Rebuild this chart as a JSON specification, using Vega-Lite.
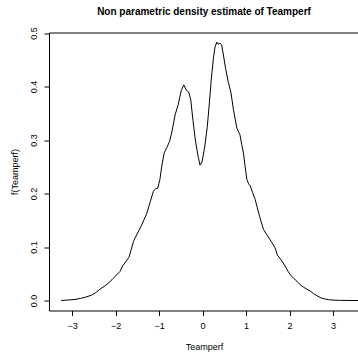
{
  "$schema": "https://vega.github.io/schema/vega-lite/v6.json",
  "width": 310,
  "height": 278,
  "autosize": {"type": "none"},
  "padding": {"left": 49, "top": 32.5, "right": 0, "bottom": 42.5},
  "background": "white",
  "title": {
    "text": "Non parametric density estimate of Teamperf",
    "font": "Liberation Sans",
    "fontSize": 10,
    "fontWeight": "bold",
    "color": "black",
    "anchor": "middle",
    "frame": "group",
    "offset": 10
  },
  "config": {
    "view": {"stroke": "black", "strokeWidth": 1},
    "axis": {
      "grid": false,
      "domain": false,
      "tickColor": "black",
      "tickSize": 5,
      "labelFont": "Liberation Sans",
      "labelFontSize": 9,
      "labelColor": "black",
      "titleFont": "Liberation Sans",
      "titleFontSize": 9,
      "titleFontWeight": "normal",
      "titleColor": "black"
    }
  },
  "data": {
    "values": [
      {"x": -3.25, "y": 0.0},
      {"x": -3.1, "y": 0.0008},
      {"x": -2.93, "y": 0.002},
      {"x": -2.8, "y": 0.004},
      {"x": -2.7, "y": 0.006},
      {"x": -2.55, "y": 0.01},
      {"x": -2.45, "y": 0.015},
      {"x": -2.36, "y": 0.021},
      {"x": -2.25, "y": 0.027},
      {"x": -2.17, "y": 0.032},
      {"x": -2.08, "y": 0.039},
      {"x": -2.01, "y": 0.045},
      {"x": -1.9, "y": 0.054},
      {"x": -1.83, "y": 0.065},
      {"x": -1.78, "y": 0.071},
      {"x": -1.69, "y": 0.081},
      {"x": -1.64, "y": 0.095},
      {"x": -1.59, "y": 0.11},
      {"x": -1.55, "y": 0.117},
      {"x": -1.48, "y": 0.128},
      {"x": -1.4, "y": 0.141},
      {"x": -1.34, "y": 0.152},
      {"x": -1.28, "y": 0.163},
      {"x": -1.2, "y": 0.185},
      {"x": -1.13, "y": 0.204},
      {"x": -1.08, "y": 0.209},
      {"x": -1.03, "y": 0.21},
      {"x": -0.98, "y": 0.226},
      {"x": -0.93, "y": 0.255},
      {"x": -0.88, "y": 0.276},
      {"x": -0.82, "y": 0.286},
      {"x": -0.76, "y": 0.297},
      {"x": -0.71, "y": 0.313},
      {"x": -0.63, "y": 0.347},
      {"x": -0.563, "y": 0.365},
      {"x": -0.52, "y": 0.381},
      {"x": -0.487, "y": 0.393},
      {"x": -0.43, "y": 0.403},
      {"x": -0.37, "y": 0.393},
      {"x": -0.32, "y": 0.39},
      {"x": -0.27, "y": 0.375},
      {"x": -0.22, "y": 0.337},
      {"x": -0.165, "y": 0.3},
      {"x": -0.1, "y": 0.269},
      {"x": -0.057, "y": 0.253},
      {"x": -0.011, "y": 0.259},
      {"x": 0.05, "y": 0.287},
      {"x": 0.11, "y": 0.325},
      {"x": 0.15, "y": 0.362},
      {"x": 0.2, "y": 0.412},
      {"x": 0.25, "y": 0.453},
      {"x": 0.287, "y": 0.474},
      {"x": 0.33, "y": 0.483},
      {"x": 0.36, "y": 0.479},
      {"x": 0.4, "y": 0.481},
      {"x": 0.44, "y": 0.478},
      {"x": 0.48, "y": 0.459},
      {"x": 0.53, "y": 0.434},
      {"x": 0.59, "y": 0.409},
      {"x": 0.655, "y": 0.388},
      {"x": 0.71, "y": 0.357},
      {"x": 0.79, "y": 0.322},
      {"x": 0.86, "y": 0.31},
      {"x": 0.9, "y": 0.292},
      {"x": 0.94, "y": 0.276},
      {"x": 0.98, "y": 0.25},
      {"x": 1.02, "y": 0.226},
      {"x": 1.06, "y": 0.218},
      {"x": 1.1, "y": 0.214},
      {"x": 1.15, "y": 0.202},
      {"x": 1.21, "y": 0.189},
      {"x": 1.25, "y": 0.176},
      {"x": 1.32, "y": 0.155},
      {"x": 1.4, "y": 0.133},
      {"x": 1.47, "y": 0.124},
      {"x": 1.55, "y": 0.114},
      {"x": 1.62, "y": 0.105},
      {"x": 1.67, "y": 0.098},
      {"x": 1.72, "y": 0.085},
      {"x": 1.78, "y": 0.079},
      {"x": 1.84, "y": 0.072},
      {"x": 1.9, "y": 0.064},
      {"x": 1.97, "y": 0.054},
      {"x": 2.04, "y": 0.046},
      {"x": 2.1, "y": 0.041},
      {"x": 2.17, "y": 0.036},
      {"x": 2.25, "y": 0.029},
      {"x": 2.32, "y": 0.025},
      {"x": 2.4, "y": 0.021},
      {"x": 2.47, "y": 0.018},
      {"x": 2.55, "y": 0.013},
      {"x": 2.63, "y": 0.009},
      {"x": 2.72, "y": 0.005},
      {"x": 2.8, "y": 0.003},
      {"x": 2.9, "y": 0.0015},
      {"x": 3.0, "y": 0.0008},
      {"x": 3.15, "y": 0.0003},
      {"x": 3.39, "y": 0.0},
      {"x": 3.75, "y": 0.0}
    ]
  },
  "mark": {"type": "line", "color": "black", "strokeWidth": 1, "clip": true, "interpolate": "linear"},
  "encoding": {
    "x": {
      "field": "x",
      "type": "quantitative",
      "scale": {"domain": [-3.529, 3.597], "nice": false, "zero": false},
      "axis": {
        "title": "Teamperf",
        "values": [-3, -2, -1, 0, 1, 2, 3],
        "format": "d",
        "labelPadding": 6,
        "titlePadding": 12
      }
    },
    "y": {
      "field": "y",
      "type": "quantitative",
      "scale": {"domain": [-0.0187, 0.501], "nice": false, "zero": false},
      "axis": {
        "title": "f(Teamperf)",
        "values": [0, 0.1, 0.2, 0.3, 0.4, 0.5],
        "format": ".1f",
        "labelAngle": -90,
        "labelAlign": "center",
        "labelBaseline": "bottom",
        "labelPadding": 6,
        "titlePadding": 10
      }
    }
  }
}
